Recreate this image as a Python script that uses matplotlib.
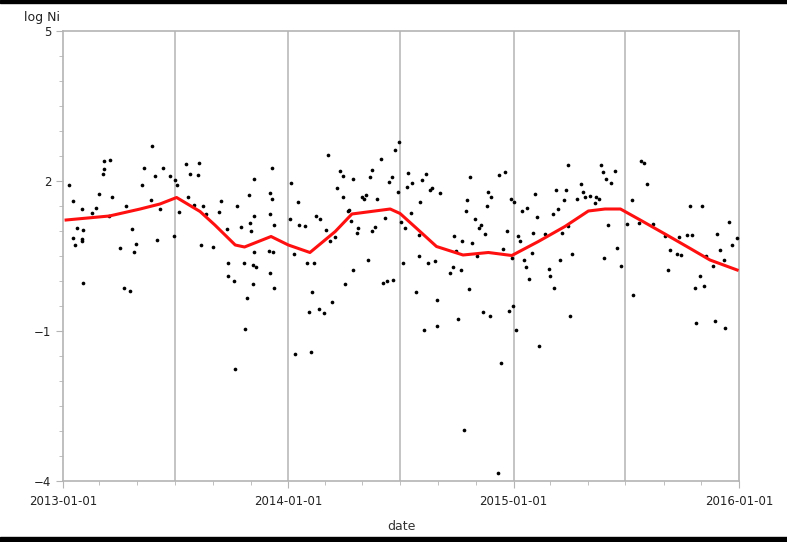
import numpy as np
import pandas as pd
import matplotlib
matplotlib.use("Agg")
import matplotlib.pyplot as plt
import matplotlib.dates as mdates
from matplotlib.patches import Rectangle

# sample date, as days after 2013-01-01, and measured log Ni
sample_day = [
    144, 66, 76, 66, 65, 132, 162, 149, 173, 199, 205, 218, 220, 10, 128, 182, 185,
    16, 58, 79, 143, 202, 30, 54, 47, 102, 157, 188, 212, 75, 22, 33, 111, 17, 31,
    30, 153, 179, 19, 93, 118, 115, 32, 99, 109,
    338, 309, 370, 429, 301, 336, 339, 256, 282, 380, 227, 253, 231, 310, 335, 367,
    410, 417, 288, 303, 341, 304, 265, 383, 392, 426, 224, 243, 310, 333, 340, 374,
    432, 267, 293, 307, 312, 395, 407, 267, 277, 335, 308, 342, 298, 404, 435, 414,
    398, 422, 295, 376, 401, 279,
    545, 538, 515, 449, 453, 501, 497, 469, 533, 528, 559, 588, 581, 566, 557, 597,
    594, 610, 444, 453, 484, 488, 491, 508, 542, 578, 655, 461, 463, 563, 652, 467,
    478, 505, 522, 477, 500, 548, 554, 441, 576, 634, 646, 637, 494, 470, 551, 576,
    591, 602, 631, 644, 627, 457, 518, 525, 535, 657, 572, 606, 640, 585, 606,
    660, 707, 716, 818, 872, 874, 688, 694, 725, 731, 765, 799, 814, 839, 842, 845,
    854, 863, 869, 833, 811, 861, 686, 667, 677, 674, 684, 743, 752, 768, 793, 802,
    719, 737, 740, 762, 781, 808, 818, 663, 712, 671, 728, 759, 824, 876, 746, 750,
    755, 788, 789, 805, 795, 680, 691, 722, 729, 734, 822, 771, 710, 650, 705,
    936, 941, 946, 879, 888, 894, 921, 1016, 1035, 882, 914, 933, 955, 1079, 975,
    998, 1011, 1019, 1059, 1092, 1083, 897, 983, 995, 1001, 1042, 1064, 904, 1053,
    1071, 980, 1032, 1023, 1038, 924, 1025, 1056, 1073,
]
log_ni = [
    2.71, 2.41, 2.43, 2.24, 2.15, 2.27, 2.27, 2.11, 2.11, 2.35, 2.14, 2.13, 2.36, 1.92, 1.92, 2.02, 1.92,
    1.61, 1.75, 1.69, 1.63, 1.69, 1.44, 1.46, 1.36, 1.51, 1.45, 1.38, 1.53, 1.30, 1.06, 1.02, 1.04, 0.87, 0.85,
    0.80, 0.82, 0.91, 0.73, 0.67, 0.74, 0.59, -0.04, -0.14, -0.19,
    2.26, 2.05, 1.96, 2.52, 1.73, 1.77, 1.64, 1.61, 1.50, 1.59, 1.51, 1.38, 1.35, 1.30, 1.34, 1.25,
    1.31, 1.25, 1.09, 1.17, 1.12, 1.01, 1.04, 1.13, 1.10, 1.02, 0.73, 0.69, 0.59, 0.61, 0.59, 0.54,
    0.80, 0.37, 0.37, 0.33, 0.29, 0.37, 0.37, 0.11, 0.01, 0.17, -0.06, -0.13, -0.33, -0.21, -0.41, -0.55,
    -0.62, -0.64, -0.95, -1.46, -1.41, -1.76,
    2.79, 2.63, 2.45, 2.20, 2.11, 2.23, 2.09, 2.05, 2.09, 1.98, 2.17, 2.15, 2.03, 1.97, 1.88, 1.87,
    1.83, 1.77, 1.87, 1.68, 1.68, 1.65, 1.73, 1.65, 1.79, 1.59, 1.63, 1.40, 1.43, 1.37, 1.40, 1.21,
    1.07, 1.08, 1.27, 0.97, 1.01, 1.19, 1.06, 0.89, 0.93, 0.91, 0.80, 0.61, 0.43, 0.22, 0.37, 0.50,
    0.37, 0.41, 0.28, 0.22, 0.17, -0.06, -0.04, 0.00, 0.03, -0.15, -0.22, -0.37, -0.75, -0.97, -0.89,
    2.09, 2.13, 2.19, 2.33, 2.33, 2.19, 1.79, 1.68, 1.64, 1.59, 1.75, 1.83, 1.83, 1.94, 1.79, 1.68,
    1.71, 1.68, 1.64, 1.64, 1.63, 1.57, 1.51, 1.24, 1.13, 1.07, 0.94, 1.41, 1.47, 1.29, 1.35, 1.44,
    1.01, 0.90, 0.80, 0.97, 0.95, 0.97, 1.11, 0.76, 0.65, 0.51, 0.47, 0.57, 0.55, 0.47, 0.43, 0.28,
    0.05, 0.24, 0.11, 0.43, -0.14, -0.62, -0.69, -0.60, -0.49, -0.97, -0.69, -1.29, -1.63, -2.97, -3.84,
    2.41, 2.37, 1.94, 2.04, 1.97, 2.20, 1.63, 1.51, 1.51, 1.13, 1.14, 1.17, 1.15, 1.19, 0.91,
    0.89, 0.93, 0.93, 0.95, 0.87, 0.73, 0.67, 0.63, 0.55, 0.52, 0.51, 0.63, 0.31, 0.31,
    0.42, 0.23, 0.11, -0.13, -0.10, -0.27, -0.83, -0.79, -0.93,
]

# smoothed fit
fit_day = [5, 75, 125, 157, 184, 222, 246, 279, 294, 337, 365, 400, 441, 468, 530, 546,
           573, 605, 648, 689, 727, 770, 813, 851, 878, 903, 935, 978, 1016, 1048, 1092]
fit_val = [1.22, 1.30, 1.44, 1.54, 1.67, 1.39, 1.12, 0.72, 0.68, 0.89, 0.72, 0.57, 0.99, 1.34, 1.44, 1.35,
           1.05, 0.69, 0.52, 0.57, 0.51, 0.79, 1.09, 1.40, 1.44, 1.44, 1.22, 0.92, 0.65, 0.42, 0.22]

start = pd.Timestamp("2013-01-01")
x_pts = start + pd.to_timedelta(sample_day, unit="D")
x_fit = start + pd.to_timedelta(fit_day, unit="D")

W, H = 787, 542
fig = plt.figure(figsize=(W / 100, H / 100), dpi=100)
ax = fig.add_axes([63 / W, 61 / H, 676 / W, 450 / H])

grey = "#b4b4b4"
for d in ["2013-07-01", "2014-01-01", "2014-07-01", "2015-01-01", "2015-07-01"]:
    ax.axvline(pd.Timestamp(d), color="#c4c4c4", lw=1.4, zorder=0)

ax.scatter(x_pts, log_ni, s=7, marker="o", color="black", linewidths=0, zorder=3)
ax.plot(x_fit, fit_val, color="#ff1010", lw=2.2, zorder=4)

ax.set_xlim(start, pd.Timestamp("2016-01-01"))
ax.set_ylim(-4, 5)
ax.set_yticks([-4, -1, 2, 5])
ax.set_yticks(np.arange(-4, 5.01, 0.5), minor=True)
ax.xaxis.set_major_locator(mdates.YearLocator())
ax.xaxis.set_major_formatter(mdates.DateFormatter("%Y-%m-%d"))
ax.xaxis.set_minor_locator(mdates.MonthLocator(bymonth=[1, 3, 5, 7, 9, 11]))

for sp in ax.spines.values():
    sp.set_color(grey)
    sp.set_linewidth(1.2)
ax.tick_params(which="both", color=grey, labelcolor="#222222", labelsize=8.5)
ax.tick_params(which="major", length=5)
ax.tick_params(which="minor", length=3)
ax.tick_params(axis="x", which="major", pad=5)

ax.set_xlabel("date", fontsize=9, color="#333333", labelpad=9)
fig.text(24 / W, 1 - 17 / H, "log Ni", fontsize=9, color="#222222", va="center")

# black bands at top and bottom of the original image
fig.patches.append(Rectangle((0, 1 - 3 / H), 1, 3 / H, transform=fig.transFigure,
                             color="black", zorder=10))
fig.patches.append(Rectangle((0, 0), 1, 5 / H, transform=fig.transFigure,
                             color="black", zorder=10))

fig.savefig("out.png", dpi=100)
